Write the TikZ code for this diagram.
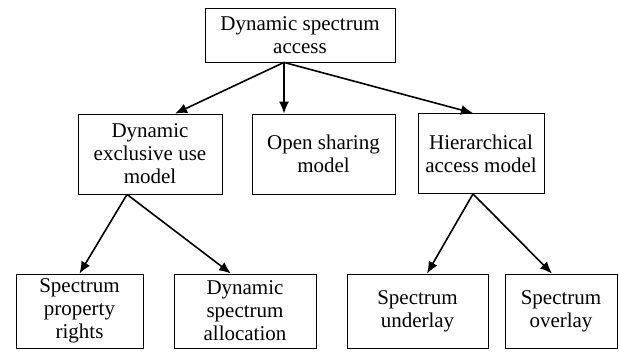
\documentclass[tikz,border=0pt]{standalone}
\usepackage{fontspec}
\setmainfont{Liberation Serif}
\usepackage{tikz}
\usetikzlibrary{arrows.meta}
\tikzset{
box/.style={draw=black,line width=0.8pt,rectangle,align=center,inner sep=0pt,
  font=\fontsize{21}{23}\selectfont},
link/.style={line width=1.6pt,draw=black,-{Latex[length=12pt,width=10pt]}},
}
\begin{document}
\begin{tikzpicture}[x=1pt,y=-1pt]
\useasboundingbox (0,0) rectangle (619,354);
% root
\node[box,minimum width=190pt,minimum height=54pt] (dsa) at (300,35) {Dynamic spectrum\\access};
% models
\node[box,minimum width=144pt,minimum height=80pt] (excl) at (150,154) {Dynamic\\exclusive use\\model};
\node[box,minimum width=143pt,minimum height=80pt] (open) at (323.5,154) {Open sharing\\model};
\node[box,minimum width=126pt,minimum height=80pt] (hier) at (481,153.5) {Hierarchical\\access model};
% leaves
\node[box,minimum width=127pt,minimum height=74pt] (rights) at (79.5,311) {Spectrum\\property\\rights};
\node[box,minimum width=142pt,minimum height=74pt] (alloc) at (245,311) {Dynamic\\spectrum\\allocation};
\node[box,minimum width=141pt,minimum height=74pt] (under) at (417.5,311) {Spectrum\\underlay};
\node[box,minimum width=112pt,minimum height=74pt] (over) at (561,311) {Spectrum\\overlay};

\draw[link] ([xshift=-16pt]dsa.south) -- ([xshift=25pt]excl.north);
\draw[link] ([xshift=-16pt]dsa.south) -- ([xshift=-39.5pt]open.north);
\draw[link] ([xshift=-16pt]dsa.south) -- ([xshift=-8pt]hier.north);

\draw[link] ([xshift=-23pt]excl.south) -- (rights.north);
\draw[link] ([xshift=-23pt]excl.south) -- ([xshift=-14pt]alloc.north);

\draw[link] ([xshift=-8pt]hier.south) -- ([xshift=9.5pt]under.north);
\draw[link] ([xshift=-8pt]hier.south) -- ([xshift=-9pt]over.north);
\end{tikzpicture}
\end{document}
